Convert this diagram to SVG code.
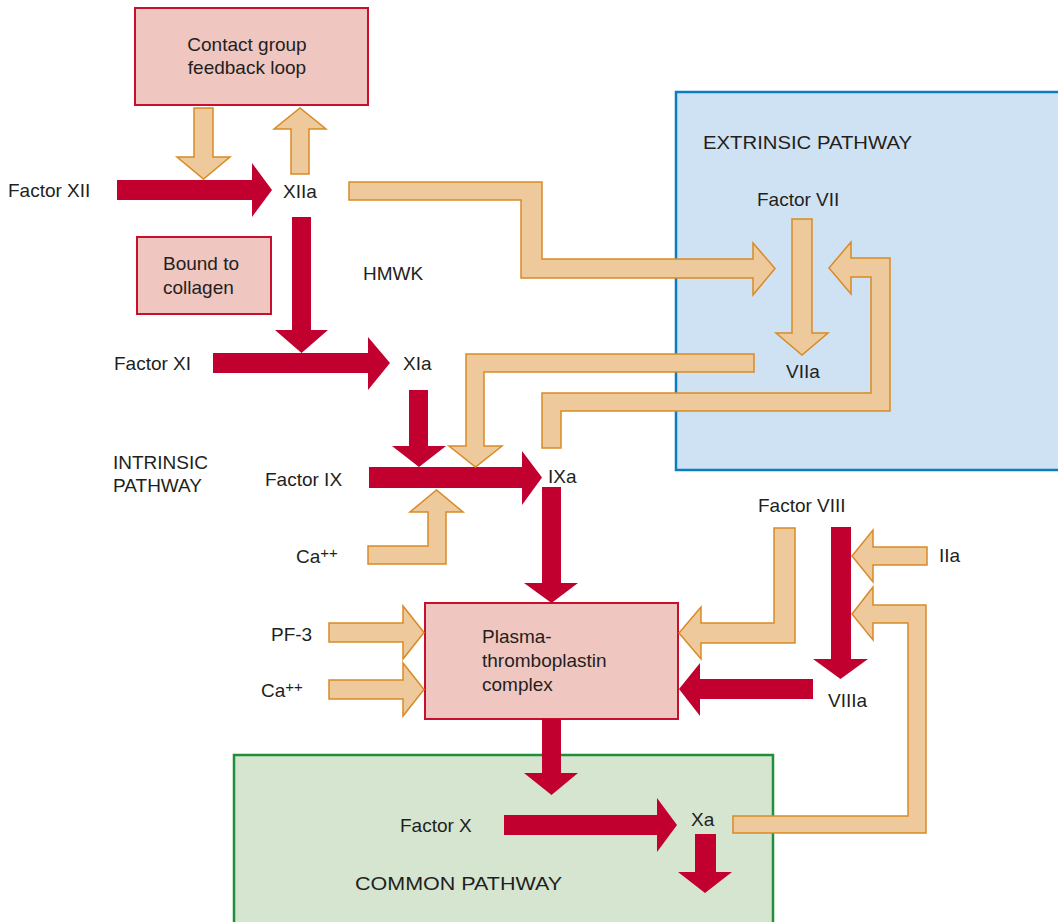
<svg xmlns="http://www.w3.org/2000/svg" width="1058" height="922" viewBox="0 0 1058 922">
  <style>
    text { font-family: "Liberation Sans", Arial, sans-serif; font-size: 19px; fill: #231f20; }
    .sup { font-size: 15px; }
    .box { fill: #f0c6c1; stroke: #c8102e; stroke-width: 2; }
    .red { fill: #c1002f; }
    .tan { fill: #eec99b; stroke: #d98a25; stroke-width: 1.5; stroke-linejoin: miter; }
  </style>

  <!-- pathway regions -->
  <g id="extrinsic-pathway">
    <rect x="676" y="92" width="400" height="378" fill="#cfe2f3" stroke="#0b7dc1" stroke-width="2.5"/>
    <text x="703" y="149" textLength="209" lengthAdjust="spacingAndGlyphs">EXTRINSIC PATHWAY</text>
  </g>
  <g id="common-pathway">
    <rect x="234" y="755" width="539" height="190" fill="#d5e5d0" stroke="#1f8f3a" stroke-width="2.5"/>
    <text x="355" y="890" textLength="207" lengthAdjust="spacingAndGlyphs">COMMON PATHWAY</text>
  </g>
  <g id="intrinsic-pathway">
    <text x="113" y="469">INTRINSIC</text>
    <text x="113" y="492">PATHWAY</text>
  </g>

  <!-- boxed nodes -->
  <g id="contact-group">
    <rect class="box" x="135" y="8" width="233" height="97"/>
    <text x="247" y="51" text-anchor="middle">Contact group</text>
    <text x="247" y="74" text-anchor="middle">feedback loop</text>
  </g>
  <g id="bound-collagen">
    <rect class="box" x="137" y="237" width="134" height="77"/>
    <text x="163" y="270">Bound to</text>
    <text x="163" y="294">collagen</text>
  </g>
  <g id="plasma-thromboplastin">
    <rect class="box" x="425" y="603" width="253" height="116"/>
    <text x="482" y="643">Plasma-</text>
    <text x="482" y="667">thromboplastin</text>
    <text x="482" y="691">complex</text>
  </g>

  <!-- factor labels -->
  <g id="factor-xii"><text x="8" y="197">Factor XII</text></g>
  <g id="xiia"><text x="283" y="198">XIIa</text></g>
  <g id="hmwk"><text x="363" y="280">HMWK</text></g>
  <g id="factor-xi"><text x="114" y="370">Factor XI</text></g>
  <g id="xia"><text x="403" y="370">XIa</text></g>
  <g id="factor-ix"><text x="265" y="486">Factor IX</text></g>
  <g id="ixa"><text x="548" y="483">IXa</text></g>
  <g id="ca-1"><text x="296" y="563">Ca<tspan class="sup" dy="-5">++</tspan></text></g>
  <g id="factor-vii"><text x="757" y="206">Factor VII</text></g>
  <g id="viia"><text x="786" y="378">VIIa</text></g>
  <g id="factor-viii"><text x="758" y="512">Factor VIII</text></g>
  <g id="iia"><text x="939" y="562">IIa</text></g>
  <g id="pf-3"><text x="271" y="641">PF-3</text></g>
  <g id="ca-2"><text x="261" y="697">Ca<tspan class="sup" dy="-5">++</tspan></text></g>
  <g id="viiia"><text x="828" y="707">VIIIa</text></g>
  <g id="factor-x"><text x="400" y="832">Factor X</text></g>
  <g id="xa"><text x="691" y="826">Xa</text></g>

  <!-- connectors: red = activation, tan = cofactor / feedback -->
  <g id="connectors">
    <!-- Factor XII -> XIIa -->
    <polygon class="red" points="117,180 252,180 252,163 272,190 252,217 252,200 117,200"/>
    <!-- XIIa -> XIa -->
    <polygon class="red" points="292,217 311,217 311,330 328,330 301.5,353 275,330 292,330"/>
    <!-- Factor XI -> XIa -->
    <polygon class="red" points="213,353 368,353 368,337 390,363 368,390 368,373 213,373"/>
    <!-- XIa -> Factor IX -->
    <polygon class="red" points="409,390 428,390 428,446 446,446 419,467 392,446 409,446"/>
    <!-- Factor IX -> IXa -->
    <polygon class="red" points="369,467 522,467 522,451 542,477.5 522,505 522,488 369,488"/>
    <!-- IXa -> complex -->
    <polygon class="red" points="542,487 561,487 561,583 578,583 551.5,603 524,583 542,583"/>
    <!-- Factor VIII -> VIIIa -->
    <polygon class="red" points="831,527 851,527 851,659 868,659 840.5,679 813,659 831,659"/>
    <!-- VIIIa -> complex -->
    <polygon class="red" points="813,679 700,679 700,663 679,689 700,716 700,699 813,699"/>
    <!-- complex -> Factor X -->
    <polygon class="red" points="542,719 561,719 561,773 578,773 551.5,795 524,773 542,773"/>
    <!-- Factor X -> Xa -->
    <polygon class="red" points="504,815 657,815 657,798 677,825 657,852 657,835 504,835"/>
    <!-- Xa onward -->
    <polygon class="red" points="695,834 716,834 716,872 732,872 705,893 678,872 695,872"/>

    <!-- contact loop -> XIIa -->
    <polygon class="tan" points="194,108 213,108 213,157 230,157 203.5,179 177,157 194,157"/>
    <!-- XIIa -> contact loop -->
    <polygon class="tan" points="291,174 309,174 309,129 326,129 300,108 274,129 291,129"/>
    <!-- XIIa -> Factor VII -->
    <polygon class="tan" points="349,182 542,182 542,259 753,259 753,243 775,268.5 753,295 753,278 521,278 521,200 349,200"/>
    <!-- Factor VII -> VIIa -->
    <polygon class="tan" points="792,219 812,219 812,333 828,333 802,355 776,333 792,333"/>
    <!-- IXa feedback -> Factor VII -->
    <polygon class="tan" points="542,448 542,393 871,393 871,277 851,277 851,294 829,268 851,242 851,258 890,258 890,411 561,411 561,448"/>
    <!-- VIIa -> Factor IX -->
    <polygon class="tan" points="754,354 466,354 466,446 449,446 475.5,467 502,446 484,446 484,372 754,372"/>
    <!-- Ca++ -> Factor IX -->
    <polygon class="tan" points="368,546 428,546 428,512 410,512 436.5,490 463,512 446,512 446,564 368,564"/>
    <!-- PF-3 -> complex -->
    <polygon class="tan" points="329,623 403,623 403,606 424,632.5 403,659 403,642 329,642"/>
    <!-- Ca++ -> complex -->
    <polygon class="tan" points="329,680 403,680 403,663 424,689.5 403,716 403,699 329,699"/>
    <!-- Factor VIII -> complex -->
    <polygon class="tan" points="774,528 795,528 795,643 701,643 701,659 679,633 701,607 701,623 774,623"/>
    <!-- IIa -> Factor VIII -->
    <polygon class="tan" points="927,547 927,565 873,565 873,582 852,556 873,530 873,547"/>
    <!-- Xa feedback -> Factor VIII -->
    <polygon class="tan" points="733,816 908,816 908,623 873,623 873,640 852,614 873,587 873,605 926,605 926,833 733,833"/>
  </g>
</svg>
